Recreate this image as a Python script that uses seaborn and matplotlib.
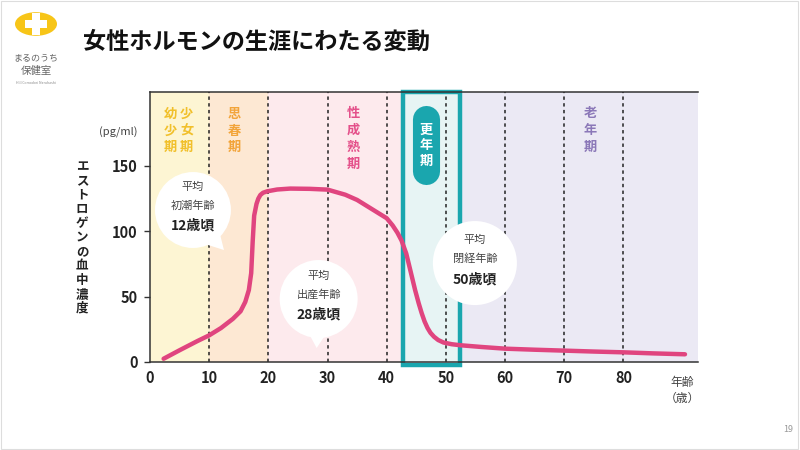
import numpy as np
import pandas as pd
import seaborn as sns
import matplotlib.pyplot as plt
from matplotlib.patches import Rectangle, Circle, Polygon
from matplotlib.transforms import ScaledTranslation

# ---------------- data ----------------
age = [2.3, 5, 8, 10, 12, 14, 15.3, 16.1, 16.7, 17.1, 17.35, 17.6, 18.0, 18.3, 18.65, 19.1, 19.8,
       21.5, 23.7, 27, 30, 33, 35, 37.5, 40, 41.0, 41.8, 42.5, 43.3, 44.0, 44.8, 45.4,
       45.9, 46.4, 46.9, 47.4, 48.0, 48.7, 49.6, 51.0, 52.5, 56, 60, 65, 70, 75, 80, 85, 90.4]
estrogen = [2.5, 9, 16, 20.4, 26, 33, 38.8, 46, 55, 68, 92, 112, 121, 125, 127.8, 129.5, 130.6,
            132, 132.7, 132.5, 131.9, 128, 124, 117, 110, 104.5, 99, 93, 83, 70, 55, 45,
            37.5, 31, 26, 22.3, 19.3, 16.8, 14.9, 13.6, 12.8, 11.5, 10.2, 9.4, 8.7, 8.0, 7.4, 6.6, 5.9]

x_ticks = [0, 10, 20, 30, 40, 50, 60, 70, 80]
y_ticks = [0, 50, 100, 150]
dash_ages = [10, 20, 30, 40, 50, 60, 70, 80]

band_edges = [0, 10, 20, 42.7, 52.4, 92.6]
band_colors = ["#fdf5d3", "#fde8d3", "#fdeaed", "#e7f4f4", "#ebe9f4"]

phase_labels = ["幼少期", "少女期", "思春期", "性成熟期", "老年期"]
phase_x = [3.5, 6.2, 14.3, 34.4, 74.4]
phase_y = [177, 177, 177, 171, 177.5]
phase_colors = ["#f1c02b", "#f1c02b", "#f2a43a", "#e4508a", "#8b78b8"]

meno_label = "更年期"
meno_x = 46.7
meno_y = 166
meno_span = [146.5, 186.3]

bubble_x = [7.26, 28.5, 54.9]
bubble_y = [116.3, 48.2, 75.7]
bubble_line1 = ["平均", "平均", "平均"]
bubble_line2 = ["初潮年齢", "出産年齢", "閉経年齢"]
bubble_line3 = ["12歳頃", "28歳頃", "50歳頃"]

# ---------------- style ----------------
sns.set_style("white")
plt.rcParams['font.family'] = ['Noto Sans CJK JP', 'DejaVu Sans']

teal = "#1aa6ae"
pink = "#e0457f"
dark = "#222222"

fig = plt.figure(figsize=(8, 4.5), dpi=100)
fig.patch.set_facecolor("white")
ax = fig.add_axes([150/800, 88/450, 548/800, 270/450])
ax.set_xlim(0, 92.6)
ax.set_ylim(0, 206.6)

# bands
for i, c in enumerate(band_colors):
    ax.axvspan(band_edges[i], band_edges[i+1], color=c, lw=0, zorder=0)

# dashed lines
for a in dash_ages:
    ax.axvline(a, color="#222222", lw=1.1, ls=(0, (2.2, 2.2)), zorder=1)

# menopause box
ax.add_patch(Rectangle((band_edges[3], -2.2), band_edges[4]-band_edges[3], 206.6+2.2,
                       fill=False, ec=teal, lw=3.2, clip_on=False, zorder=2))

# curve
df = pd.DataFrame({"age": age, "estrogen": estrogen})
sns.lineplot(data=df, x="age", y="estrogen", ax=ax, color=pink, lw=3.2,
             zorder=3, sort=False, solid_capstyle="round", solid_joinstyle="round")

# bubbles
sizes = [2990, 3150, 3660]
ax.scatter(bubble_x, bubble_y, s=sizes, color="white", edgecolors="none", zorder=4)
tails = [
    [(0.27, -0.24), (0.12, -0.34), (0.31, -0.40)],
    [(-0.09, -0.36), (0.06, -0.37), (-0.02, -0.49)],
]
for i, tv in enumerate(tails):
    tr = fig.dpi_scale_trans + ScaledTranslation(bubble_x[i], bubble_y[i], ax.transData)
    ax.add_patch(Polygon(tv, closed=True, fc="white", ec="none", transform=tr, zorder=4))
for i in range(3):
    ax.annotate(bubble_line1[i], (bubble_x[i], bubble_y[i]), xytext=(0, 16.5),
                textcoords="offset points", ha="center", va="center",
                fontsize=8, color="#444444", zorder=5)
    ax.annotate(bubble_line2[i], (bubble_x[i], bubble_y[i]), xytext=(0, 3),
                textcoords="offset points", ha="center", va="center",
                fontsize=8, color="#444444", zorder=5)
    ax.annotate(bubble_line3[i], (bubble_x[i], bubble_y[i]), xytext=(0, -11.5),
                textcoords="offset points", ha="center", va="center",
                fontsize=10, fontweight="bold", color=dark, zorder=5)

# phase labels
for lab, x, y, c in zip(phase_labels, phase_x, phase_y, phase_colors):
    ax.text(x, y, "\n".join(lab), ha="center", va="center", fontsize=9.5,
            fontweight="bold", color=c, linespacing=1.25, zorder=5)

# menopause pill
ax.plot([meno_x, meno_x], meno_span, color=teal, lw=19.5, solid_capstyle="round", zorder=4)
ax.text(meno_x, meno_y, "\n".join(meno_label), ha="center", va="center", fontsize=9.5,
        fontweight="bold", color="white", linespacing=1.15, zorder=5)

# axes styling
ax.set_xticks(x_ticks)
ax.set_yticks(y_ticks)
ax.set_xticklabels([str(v) for v in x_ticks], fontsize=10.5, fontweight="bold", color=dark)
ax.set_yticklabels([str(v) for v in y_ticks], fontsize=10.5, fontweight="bold", color=dark)
ax.tick_params(axis="x", length=0, pad=6)
ax.tick_params(axis="y", length=4, width=1, color="#333333", pad=5, left=True)
ax.set_xlabel("")
ax.set_ylabel("")
for s in ["left", "bottom", "top"]:
    ax.spines[s].set_visible(True)
    ax.spines[s].set_color("#333333")
    ax.spines[s].set_linewidth(1.1)
ax.spines["right"].set_visible(False)
ax.grid(False)

# x-axis unit label
ax.annotate("年齢\n（歳）", (90.0, 0), xytext=(0, -10), textcoords="offset points",
            ha="center", va="top", fontsize=8.5, color="#444444", linespacing=1.3,
            annotation_clip=False)

# y label (stacked vertical)
fig.text(82/800, 1-237.5/450, "\n".join("エストロゲンの血中濃度"), ha="center", va="center",
         fontsize=9, fontweight="bold", color=dark, linespacing=1.12)
fig.text(118/800, 1-132/450, "(pg/ml)", ha="center", va="center", fontsize=8, color="#444444")

# title
fig.text(83/800, 1-42/450, "女性ホルモンの生涯にわたる変動", ha="left", va="center",
         fontsize=16.7, fontweight="bold", color="#111111")

# logo
fig.patches.append(Circle((36/800, 1-24/450), 21/800, transform=fig.transFigure,
                          fc="#f7c518", ec="none"))
fig.patches.append(Rectangle(((36-11)/800, 1-(24+4)/450), 22/800, 8/450,
                             transform=fig.transFigure, fc="white", ec="none"))
fig.patches.append(Rectangle(((36-4)/800, 1-(24+11)/450), 8/800, 22/450,
                             transform=fig.transFigure, fc="white", ec="none"))
fig.text(36/800, 1-58/450, "まるのうち", ha="center", va="center", fontsize=6.5, color="#666666")
fig.text(36/800, 1-71/450, "保健室", ha="center", va="center", fontsize=7.5, color="#666666")
fig.text(36/800, 1-83/450, "Hill Comodori Naruhashi", ha="center", va="center", fontsize=2.5,
         color="#888888")

# page number and slide frame
fig.text(788/800, 1-430/450, "19", ha="center", va="center", fontsize=6.5, color="#999999")
fig.patches.append(Rectangle((0.001, 0.002), 0.997, 0.995, transform=fig.transFigure,
                             fill=False, ec="#dddddd", lw=0.8))

fig.savefig("out.png", dpi=100)
